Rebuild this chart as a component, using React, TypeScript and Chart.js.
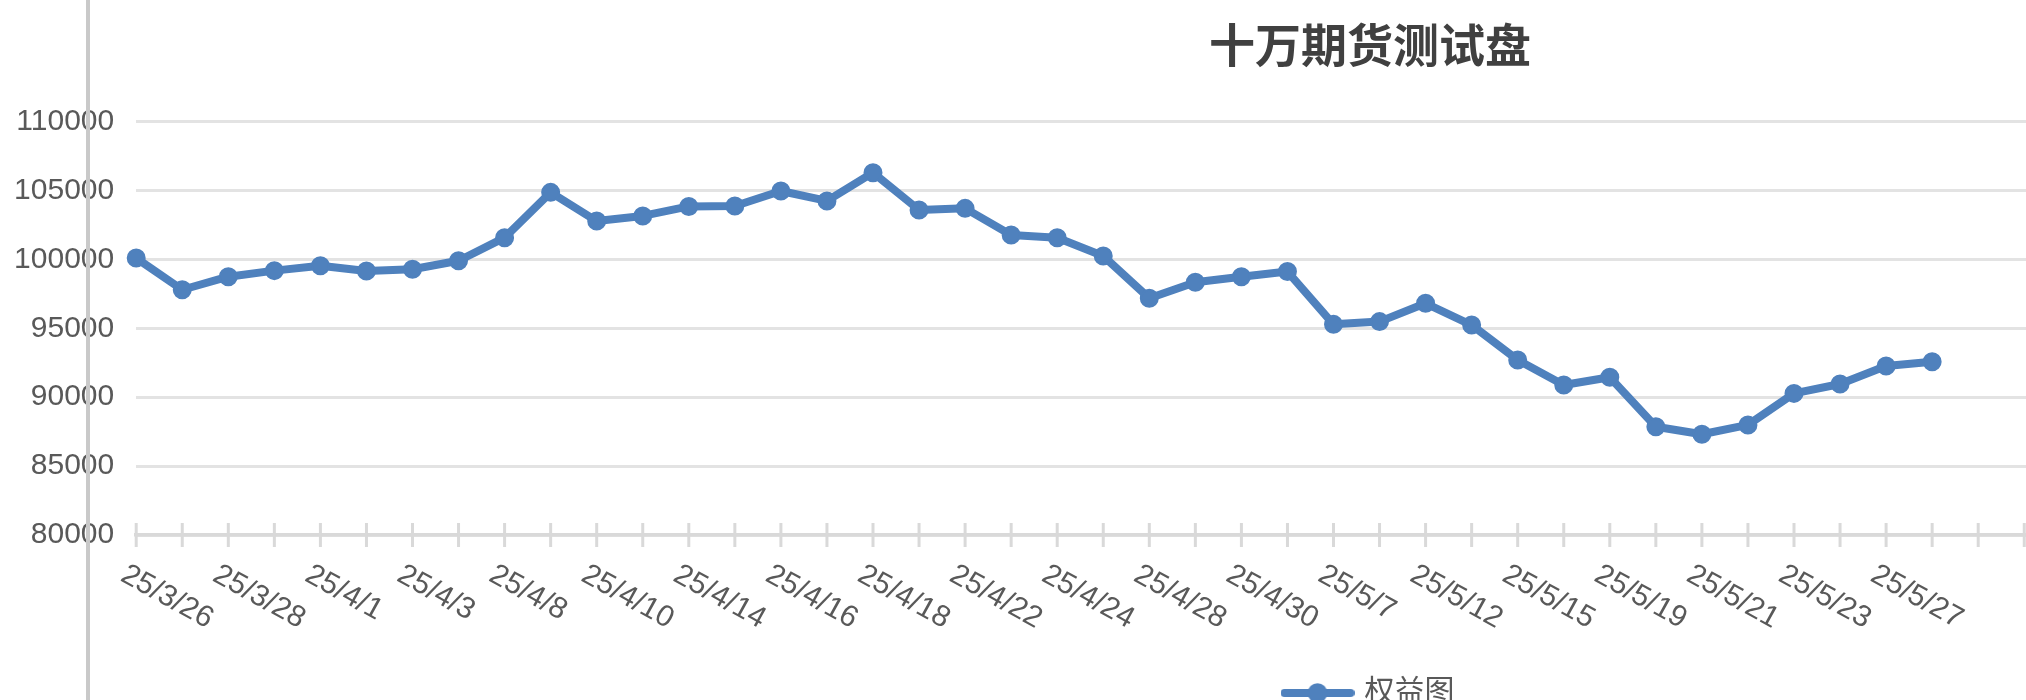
import React, { useEffect, useRef } from "react";
import { Chart, registerables } from "chart.js";

Chart.register(...registerables);

const TITLE = "十万期货测试盘";
const SERIES_NAME = "权益图";

const dates = [
  "25/3/26", "25/3/27", "25/3/28", "25/3/31", "25/4/1", "25/4/2", "25/4/3", "25/4/7",
  "25/4/8", "25/4/9", "25/4/10", "25/4/11", "25/4/14", "25/4/15", "25/4/16", "25/4/17",
  "25/4/18", "25/4/21", "25/4/22", "25/4/23", "25/4/24", "25/4/25", "25/4/28", "25/4/29",
  "25/4/30", "25/5/6", "25/5/7", "25/5/8", "25/5/12", "25/5/13", "25/5/15", "25/5/16",
  "25/5/19", "25/5/20", "25/5/21", "25/5/22", "25/5/23", "25/5/26", "25/5/27", "25/5/28",
];

const equity = [
  100100, 97800, 98750, 99190, 99550, 99160, 99290, 99910,
  101580, 104870, 102790, 103160, 103850, 103880, 104970, 104250,
  106300, 103590, 103710, 101780, 101580, 100250, 97180, 98340,
  98750, 99120, 95290, 95490, 96820, 95240, 92700, 90890,
  91450, 87860, 87310, 87990, 90280, 90960, 92270, 92580,
];

// empty category slots after the last date (axis keeps going, no data)
const EMPTY_SLOTS = 17;

const Y_MIN = 80000;
const Y_MAX = 110000;
const Y_STEP = 5000;

const BLUE = "#4f81bd";
const TEXT = "#595959";
const AXIS = "#d9d9d9";
const GRID = "#e3e3e3";
const LATIN = '"Liberation Sans", Arial, "Noto Sans CJK SC", sans-serif';

const CANVAS_W = 2740;
const CANVAS_H = 718;

function makeLegendMarker(): HTMLCanvasElement {
  const c = document.createElement("canvas");
  c.width = 74;
  c.height = 22;
  const g = c.getContext("2d")!;
  g.strokeStyle = BLUE;
  g.lineWidth = 8;
  g.lineCap = "round";
  g.beginPath();
  g.moveTo(4, 11);
  g.lineTo(70, 11);
  g.stroke();
  g.fillStyle = BLUE;
  g.beginPath();
  g.arc(37, 11, 9.8, 0, Math.PI * 2);
  g.fill();
  return c;
}

const axisDecor = {
  id: "axisDecor",
  beforeDatasetsDraw(chart: any) {
    const { ctx, chartArea, scales } = chart;
    const x = scales.x;
    const n = chart.data.labels.length;
    ctx.save();
    ctx.strokeStyle = AXIS;
    ctx.lineWidth = 3;
    for (let i = 0; i < n; i++) {
      const px = x.getPixelForValue(i);
      ctx.beginPath();
      ctx.moveTo(px, chartArea.bottom - 12);
      ctx.lineTo(px, chartArea.bottom + 12);
      ctx.stroke();
    }
    ctx.restore();
  },
  afterDraw(chart: any) {
    const { ctx, chartArea, scales } = chart;
    const x = scales.x;
    ctx.save();
    ctx.fillStyle = TEXT;
    ctx.font = `30px ${LATIN}`;
    ctx.textAlign = "left";
    ctx.textBaseline = "alphabetic";
    dates.forEach((d, i) => {
      if (i % 2 !== 0) return;
      const px = x.getPixelForValue(i);
      ctx.save();
      ctx.translate(px - 17, chartArea.bottom + 45);
      ctx.rotate((29 * Math.PI) / 180);
      ctx.fillText(d, 0, 0);
      ctx.restore();
    });
    ctx.restore();
  },
};

export default function App() {
  const ref = useRef<HTMLCanvasElement | null>(null);

  useEffect(() => {
    if (!ref.current) return;
    const labels = [...dates, ...Array(EMPTY_SLOTS).fill("")];
    const chart = new Chart(ref.current, {
      type: "line",
      data: {
        labels,
        datasets: [
          {
            label: SERIES_NAME,
            data: equity,
            borderColor: BLUE,
            backgroundColor: BLUE,
            borderWidth: 8,
            borderJoinStyle: "round",
            borderCapStyle: "round",
            pointRadius: 8.5,
            pointBorderWidth: 2,
            pointBackgroundColor: BLUE,
            pointBorderColor: BLUE,
            tension: 0,
            fill: false,
          },
        ],
      },
      options: {
        animation: false,
        responsive: false,
        devicePixelRatio: 1,
        layout: { padding: 0 },
        plugins: {
          title: {
            display: true,
            text: TITLE,
            color: "#404040",
            font: { size: 46, family: '"Noto Sans CJK SC", sans-serif', weight: "bold" },
            padding: { top: 17, bottom: 49.5 },
          },
          legend: {
            display: true,
            position: "bottom",
            labels: {
              usePointStyle: true,
              pointStyle: makeLegendMarker(),
              pointStyleWidth: 64,
              color: TEXT,
              font: { size: 30, family: LATIN },
              padding: 10,
            },
          },
          tooltip: { enabled: false },
        },
        scales: {
          x: {
            type: "category",
            offset: false,
            grid: { display: false },
            border: { display: true, color: AXIS, width: 3.5 },
            ticks: { display: false, autoSkip: false },
            afterFit: (s: any) => {
              s.height = 133;
            },
          },
          y: {
            min: Y_MIN,
            max: Y_MAX,
            border: { display: false },
            grid: { color: GRID, lineWidth: 3, drawTicks: false },
            ticks: {
              stepSize: Y_STEP,
              padding: 22,
              color: TEXT,
              font: { size: 30, family: LATIN },
              callback: (v: any) => String(v),
            },
            afterFit: (s: any) => {
              s.width = 136.2;
            },
          },
          // empty right-hand box: keeps the plot's right edge where the reference has it
          yRight: {
            type: "linear",
            position: "right",
            display: true,
            grid: { display: false, drawTicks: false },
            border: { display: false },
            ticks: { display: false },
            afterFit: (s: any) => {
              s.width = 25;
            },
          },
        },
      },
      plugins: [axisDecor],
    });
    return () => chart.destroy();
  }, []);

  return (
    <div
      style={{
        position: "absolute",
        left: 0,
        top: 0,
        width: 2026,
        height: 700,
        overflow: "hidden",
        background: "#ffffff",
      }}
    >
      <canvas
        ref={ref}
        width={CANVAS_W}
        height={CANVAS_H}
        style={{ display: "block", width: CANVAS_W, height: CANVAS_H }}
      />
      <div
        style={{
          position: "absolute",
          left: 86,
          top: 0,
          width: 4,
          height: 700,
          background: "#c9c9c9",
        }}
      />
    </div>
  );
}
